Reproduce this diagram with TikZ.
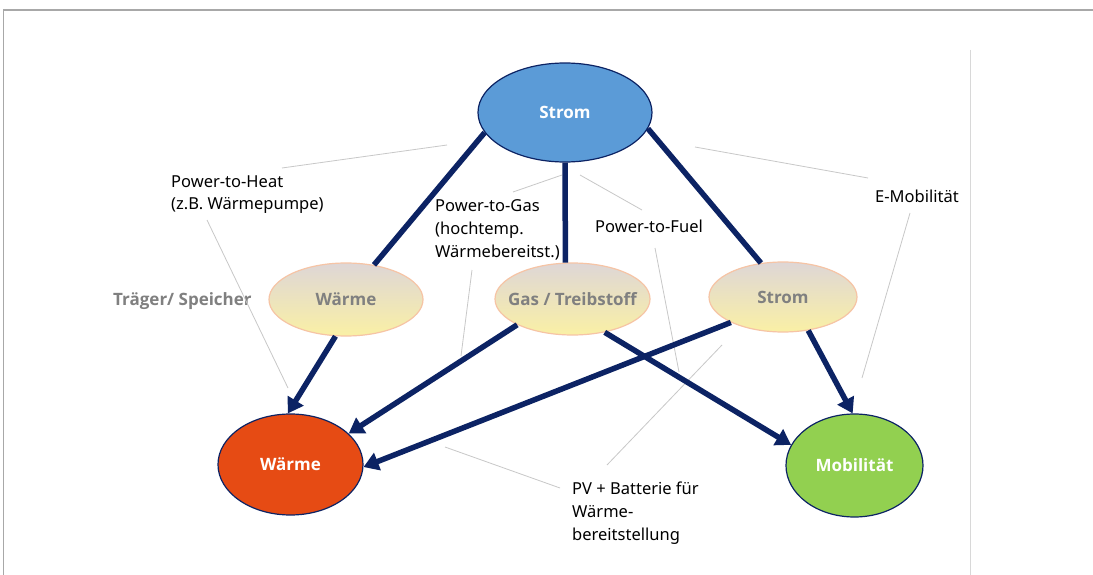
\documentclass[tikz,border=0pt]{standalone}
\usepackage{fontspec}
\setmainfont{Noto Sans}
\newfontfamily\nodefont{Open Sans}
\usetikzlibrary{shapes.geometric,arrows.meta}
\definecolor{navy}{RGB}{12,35,100}
\definecolor{stromblue}{RGB}{91,155,215}
\definecolor{heatred}{RGB}{230,75,20}
\definecolor{mobgreen}{RGB}{146,208,80}
\definecolor{midtop}{RGB}{222,214,214}
\definecolor{midbot}{RGB}{250,240,165}
\definecolor{midborder}{RGB}{246,196,165}
\definecolor{labelgray}{RGB}{128,128,128}
\definecolor{leader}{RGB}{200,200,200}
\definecolor{framegray}{RGB}{168,168,168}
\definecolor{rightline}{RGB}{216,216,216}
\tikzset{
  boldtext/.style={font=\nodefont\fontsize{17}{20}\selectfont\bfseries},
  mainnode/.style={ellipse, draw=navy, line width=1.2pt, inner sep=0pt, text=white, boldtext},
  midnode/.style={ellipse, draw=midborder, line width=1.2pt, inner sep=0pt, top color=midtop, bottom color=midbot, text=labelgray, boldtext},
  flow/.style={draw=navy, line width=5.5pt},
  flowarrow/.style={flow, -{Triangle[length=15pt,width=18pt]}},
  leaderline/.style={draw=leader, line width=0.8pt},
  lbl/.style={inner sep=0pt, anchor=base west, align=left, font=\fontsize{16.5}{23}\selectfont},
}
\begin{document}
\begin{tikzpicture}[x=1pt,y=-1pt]
\useasboundingbox (0,0) rectangle (1093,575);
\fill[white] (0,0) rectangle (1093,575);
% frame
\draw[framegray, line width=1.5pt] (3.5,575) -- (3.5,10) -- (1093,10);
\draw[rightline, line width=0.8pt] (970,50) -- (970,575);

% nodes
\node[mainnode, fill=stromblue, minimum width=174pt, minimum height=99pt] (strom) at (565,112.5) {Strom};
\node[midnode, minimum width=154pt, minimum height=73pt] (w1) at (346,299.5) {Wärme};
\node[midnode, inner xsep=-13pt, minimum width=155pt, minimum height=72pt] (gas) at (572.5,299) {Gas / Treibstoff};
\node[midnode, minimum width=148pt, minimum height=70pt] (s2) at (783,297) {Strom};
\node[mainnode, fill=heatred, minimum width=145pt, minimum height=101pt] (w2) at (290.5,464.5) {Wärme};
\node[mainnode, fill=mobgreen, minimum width=137pt, minimum height=103pt] (mob) at (854.5,465.5) {Mobilität};

% labels (base = last line)
\node[lbl] (pth) at (171,210) {Power-to-Heat\\(z.B. Wärmepumpe)};
\node[lbl, text=labelgray, boldtext] (traeger) at (113,305) {Träger/ Speicher};
\node[lbl] (ptg) at (435,257) {Power-to-Gas\\(hochtemp.\\Wärmebereitst.)};
\node[lbl] (ptf) at (595,233) {Power-to-Fuel};
\node[lbl] (emob) at (875,202) {E-Mobilität};
\node[lbl] (pv) at (572,540) {PV + Batterie für\\Wärme-\\bereitstellung};

% leader lines
\coordinate (a1) at (282,168); \coordinate (a2) at (447,145);
\coordinate (a3) at (207,220); \coordinate (a4) at (288,388);
\coordinate (b1) at (513,192); \coordinate (b2) at (562,175);
\coordinate (b3) at (472,270); \coordinate (b4) at (461,356);
\coordinate (c1) at (580,175); \coordinate (c2) at (642,210);
\coordinate (c3) at (655,248); \coordinate (c4) at (679,372);
\coordinate (d1) at (695,147); \coordinate (d2) at (868,178);
\coordinate (d3) at (910,213); \coordinate (d4) at (862,378);
\coordinate (e1) at (445,447); \coordinate (e2) at (560,488);
\coordinate (e3) at (607,465); \coordinate (e4) at (722,345);
\draw[leaderline] (a1) -- (a2);
\draw[leaderline] (a3) -- (a4);
\draw[leaderline] (b1) -- (b2);
\draw[leaderline] (b3) -- (b4);
\draw[leaderline] (c1) -- (c2);
\draw[leaderline] (c3) -- (c4);
\draw[leaderline] (d1) -- (d2);
\draw[leaderline] (d3) -- (d4);
\draw[leaderline] (e1) -- (e2);
\draw[leaderline] (e3) -- (e4);

% flows
\draw[flow] (strom.194) -- (w1.51);
\draw[flow] (strom.270) -- (gas.101);
\draw[flow] (strom.349) -- (s2.123);
\draw[flowarrow] (w1.254) -- (w2.93);
\draw[flowarrow] (gas.205) -- (w2.28);
\draw[flowarrow] (gas.314) -- (mob.162);
\draw[flowarrow] (s2.206) -- (w2.358);
\draw[flowarrow] (s2.307) -- (mob.92);
\end{tikzpicture}
\end{document}
